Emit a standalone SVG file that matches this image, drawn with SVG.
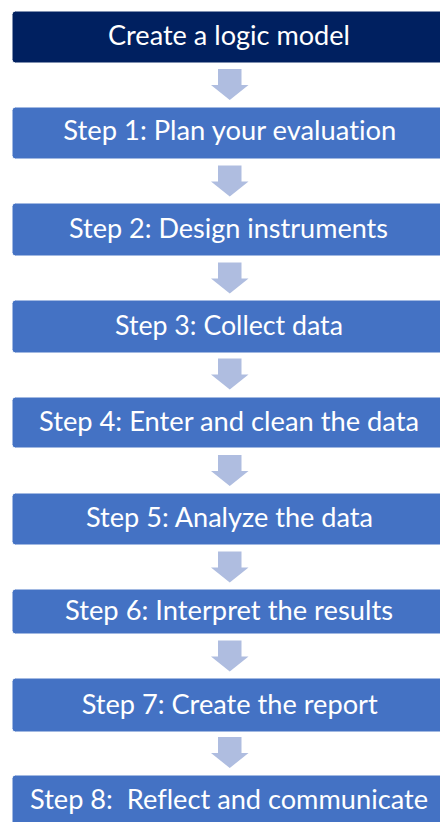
<svg xmlns="http://www.w3.org/2000/svg" width="440" height="822" viewBox="0 0 440 822">
  <style>
    .box { fill: #4472C4; stroke: #FFFFFF; stroke-width: 1; }
    .box.top { fill: #002060; }
    .label { font-family: Lato, "Open Sans", "Liberation Sans", sans-serif; font-size: 26px; fill: #FFFFFF; font-variant-ligatures: none; font-feature-settings: "liga" 0, "clig" 0; }
    .arrow { fill: #AFBDE0; }
  </style>
  <defs>
    <!-- block arrow pointing down, 31px tall, centred on x=229.75 -->
    <path id="down-arrow" class="arrow" d="M218 0 H241.5 V16 H248.5 L229.75 31 L211 16 H218 Z"/>
  </defs>
  <rect width="440" height="822" fill="#FFFFFF"/>

  <g id="connectors">
    <use href="#down-arrow" y="69"/>
    <use href="#down-arrow" y="165.5"/>
    <use href="#down-arrow" y="262.5"/>
    <use href="#down-arrow" y="358.5"/>
    <use href="#down-arrow" y="455"/>
    <use href="#down-arrow" y="551.5"/>
    <use href="#down-arrow" y="640.5"/>
    <use href="#down-arrow" y="737"/>
  </g>

  <g id="logic-model">
    <rect class="box top" x="12" y="11" width="436" height="52" rx="3.5"/>
    <text class="label" x="108" y="44.5" textLength="242" lengthAdjust="spacingAndGlyphs">Create a logic model</text>
  </g>
  <g id="step1">
    <rect class="box" x="12" y="107" width="436" height="52" rx="3.5"/>
    <text class="label" x="63.3" y="140" textLength="333" lengthAdjust="spacingAndGlyphs">Step 1: Plan your evaluation</text>
  </g>
  <g id="step2">
    <rect class="box" x="12" y="203" width="436" height="53" rx="3.5"/>
    <text class="label" x="69" y="238" textLength="319" lengthAdjust="spacingAndGlyphs">Step 2: Design instruments</text>
  </g>
  <g id="step3">
    <rect class="box" x="12" y="300" width="436" height="53" rx="3.5"/>
    <text class="label" x="115" y="335" textLength="228" lengthAdjust="spacingAndGlyphs">Step 3: Collect data</text>
  </g>
  <g id="step4">
    <rect class="box" x="12" y="397" width="436" height="51" rx="3.5"/>
    <text class="label" x="39" y="431" textLength="380" lengthAdjust="spacingAndGlyphs">Step 4: Enter and clean the data</text>
  </g>
  <g id="step5">
    <rect class="box" x="12" y="493" width="436" height="52" rx="3.5"/>
    <text class="label" x="86" y="527" textLength="287" lengthAdjust="spacingAndGlyphs">Step 5: Analyze the data</text>
  </g>
  <g id="step6">
    <rect class="box" x="12" y="589" width="436" height="45" rx="3.5"/>
    <text class="label" x="65" y="619.5" textLength="328" lengthAdjust="spacingAndGlyphs">Step 6: Interpret the results</text>
  </g>
  <g id="step7">
    <rect class="box" x="12" y="678" width="436" height="54" rx="3.5"/>
    <text class="label" x="81.7" y="713.5" textLength="296" lengthAdjust="spacingAndGlyphs">Step 7: Create the report</text>
  </g>
  <g id="step8">
    <rect class="box" x="12" y="775" width="436" height="52" rx="3.5"/>
    <text class="label" x="30" y="808.5" textLength="398" lengthAdjust="spacingAndGlyphs" xml:space="preserve">Step 8:  Reflect and communicate</text>
  </g>
</svg>
